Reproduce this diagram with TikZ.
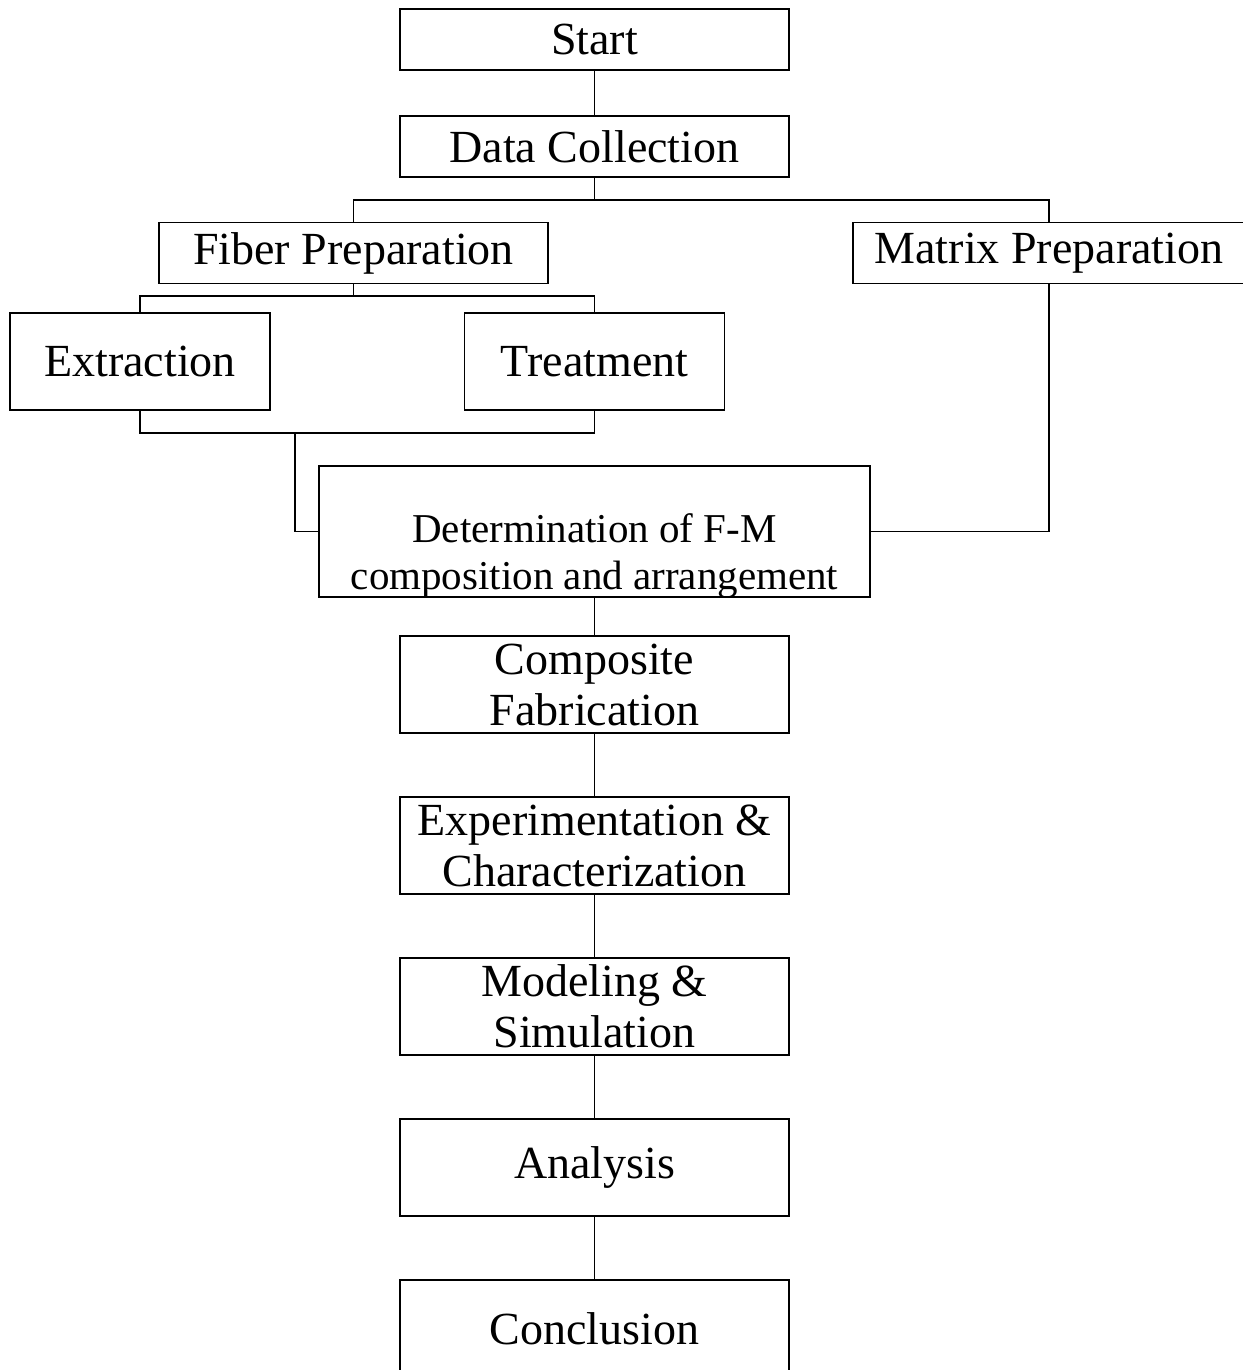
\documentclass[tikz,border=0pt]{standalone}
\usepackage{fontspec}
\setmainfont{Liberation Serif}
\usepackage{tikz}

\tikzset{
  box/.style={draw, line width=0.75pt, inner sep=0pt, align=center,
    font=\fontsize{23pt}{25.5pt}\selectfont},
  wide/.style={box, minimum width=194.5pt, minimum height=30.5pt},
  tall/.style={box, minimum width=194.5pt, minimum height=48.5pt},
  link/.style={line width=0.95pt}
}

\begin{document}
\begin{tikzpicture}[x=0.5pt,y=-0.5pt]
\useasboundingbox (0,0) rectangle (1242,1370);
% top part
\node[wide] (start) at (594.5,39.5) {Start};
\node[wide] (data) at (594.5,146.5) {Data Collection};
\node[wide] (fiber) at (353.5,253) {Fiber Preparation};
\node[wide, minimum width=196pt] (matrix) at (1049,253) {Matrix Preparation};
\node[box, minimum width=130pt, minimum height=48.5pt] (extr) at (140,361.5) {Extraction};
\node[box, minimum width=130pt, minimum height=48.5pt] (treat) at (594.5,361.5) {Treatment};
\node[draw, line width=0.75pt, minimum width=275.5pt, minimum height=65.5pt] (det) at (594.5,531.5) {};
\node[align=center, font=\fontsize{20.5pt}{23.5pt}\selectfont] (dettext) at (594.5,556) {Determination of F-M\\composition and arrangement};
% main chain
\node[tall] (comp) at (594.5,684.5) {Composite\\Fabrication};
\node[tall] (exper) at (594.5,845.5) {Experimentation \&\\Characterization};
\node[tall] (model) at (594.5,1006.5) {Modeling \&\\Simulation};
\node[tall] (anal) at (594.5,1167.5) {Analysis};
\node[tall] (concl) at (594.5,1328.5) {Conclusion};

\coordinate (b1) at (594.5,200);
\coordinate (b2) at (353.5,296);
\coordinate (b3) at (295,433);

\draw[link] (start) -- (data);
\draw[link] (data) -- (b1);
\draw[link] (fiber.north) |- (b1) -| (matrix.north);
\draw[link] (fiber) -- (b2);
\draw[link] (extr.north) |- (b2) -| (treat.north);
\draw[link] (extr.south) |- (treat.south |- b3) -- (treat.south);
\draw[link] (b3) |- (det.west);
\draw[link] (matrix.south) |- (det.east);
\foreach \a/\b in {det/comp, comp/exper, exper/model, model/anal, anal/concl}
  \draw[link] (\a) -- (\b);
\end{tikzpicture}
\end{document}
